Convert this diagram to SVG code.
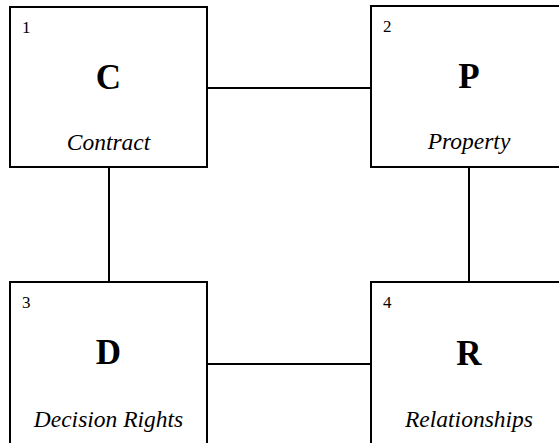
<svg xmlns="http://www.w3.org/2000/svg" width="559" height="443" viewBox="0 0 559 443">
<style>
.box{fill:#fff;stroke:#000;stroke-width:2}
text{font-family:'Liberation Serif','Times New Roman','DejaVu Serif',serif;fill:#000}
.num{font-size:17px}
.big{font-size:35px;font-weight:bold;text-anchor:middle}
.lbl{font-size:23.5px;font-style:italic;text-anchor:middle}
.conn{stroke:#000;stroke-width:2;fill:none}
</style>
<rect width="559" height="443" fill="#fff"/>
<g id="connectors">
<line class="conn" x1="207" y1="88" x2="371" y2="88"/>
<line class="conn" x1="109" y1="167" x2="109" y2="282"/>
<line class="conn" x1="469" y1="167" x2="469" y2="282"/>
<line class="conn" x1="207" y1="364" x2="371" y2="364"/>
</g>
<g id="node1">
<rect class="box" x="10" y="7" width="197" height="160"/>
<text class="num" x="22" y="33">1</text>
<text class="big" x="108.5" y="89">C</text>
<text class="lbl" x="108.5" y="150">Contract</text>
</g>
<g id="node2">
<rect class="box" x="371" y="6" width="197" height="161"/>
<text class="num" x="383" y="32">2</text>
<text class="big" x="469" y="88">P</text>
<text class="lbl" x="469" y="149">Property</text>
</g>
<g id="node3">
<rect class="box" x="10" y="282" width="197" height="170"/>
<text class="num" x="22" y="308">3</text>
<text class="big" x="108.5" y="364">D</text>
<text class="lbl" x="108.5" y="427">Decision Rights</text>
</g>
<g id="node4">
<rect class="box" x="371" y="282" width="197" height="170"/>
<text class="num" x="383" y="308">4</text>
<text class="big" x="469" y="365">R</text>
<text class="lbl" x="469" y="427">Relationships</text>
</g>
</svg>
